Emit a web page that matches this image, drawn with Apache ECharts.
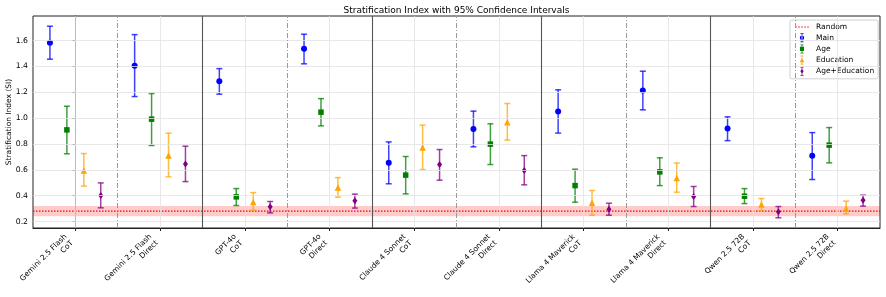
<!DOCTYPE html>
<html>
<head>
<meta charset="utf-8">
<script src="https://cdn.jsdelivr.net/npm/echarts@6/dist/echarts.min.js"></script>
<style>html,body{margin:0;padding:0;background:#fff}#c{width:886px;height:297px}</style>
</head>
<body>
<div id="c"></div>
<script>
const categories = ['Gemini 2.5 Flash\nCoT', 'Gemini 2.5 Flash\nDirect', 'GPT-4o\nCoT', 'GPT-4o\nDirect', 'Claude 4 Sonnet\nCoT', 'Claude 4 Sonnet\nDirect', 'Llama 4 Maverick\nCoT', 'Llama 4 Maverick\nDirect', 'Qwen 2.5 72B\nCoT', 'Qwen 2.5 72B\nDirect'];
const yTicks = [0.2, 0.4, 0.6, 0.8, 1.0, 1.2, 1.4, 1.6];
const mainVal  = [1.584, 1.406, 1.286, 1.536, 0.654, 0.915, 1.051, 1.213, 0.919, 0.708];
const mainLow  = [1.456, 1.167, 1.185, 1.420, 0.492, 0.778, 0.884, 1.064, 0.826, 0.525];
const mainHigh = [1.711, 1.646, 1.383, 1.649, 0.816, 1.054, 1.219, 1.363, 1.010, 0.888];
const ageVal   = [0.909, 0.992, 0.391, 1.046, 0.559, 0.799, 0.478, 0.584, 0.396, 0.791];
const ageLow   = [0.724, 0.788, 0.324, 0.940, 0.414, 0.641, 0.350, 0.478, 0.339, 0.654];
const ageHigh  = [1.092, 1.190, 0.455, 1.151, 0.703, 0.956, 0.605, 0.693, 0.455, 0.927];
const eduVal   = [0.594, 0.710, 0.352, 0.463, 0.772, 0.969, 0.345, 0.536, 0.331, 0.298];
const eduLow   = [0.474, 0.546, 0.288, 0.389, 0.602, 0.830, 0.249, 0.427, 0.285, 0.260];
const eduHigh  = [0.726, 0.884, 0.424, 0.540, 0.946, 1.113, 0.440, 0.652, 0.378, 0.358];
const aeVal    = [0.401, 0.646, 0.314, 0.360, 0.641, 0.594, 0.296, 0.393, 0.275, 0.365];
const aeLow    = [0.306, 0.509, 0.267, 0.304, 0.520, 0.484, 0.249, 0.316, 0.229, 0.319];
const aeHigh   = [0.499, 0.783, 0.355, 0.412, 0.757, 0.710, 0.342, 0.471, 0.316, 0.404];
const randomLevel = 0.28;
const randomBand = [0.24, 0.32];

const FONT = 'DejaVu Sans';
const GRID = {left: 33, right: 6, top: 16, bottom: 69};
const groups = [
  {name: 'Main', color: '#0000ff', val: mainVal, low: mainLow, high: mainHigh, off: -0.3, symbol: 'circle', size: 6},
  {name: 'Age', color: '#008000', val: ageVal, low: ageLow, high: ageHigh, off: -0.1, symbol: 'rect', size: 5.5},
  {name: 'Education', color: '#ffa500', val: eduVal, low: eduLow, high: eduHigh, off: 0.1, symbol: 'triangle', size: 6.5},
  {name: 'Age+Education', color: '#800080', val: aeVal, low: aeLow, high: aeHigh, off: 0.3, symbol: 'diamond', size: [5, 7]}
];
const markerPaths = {
  circle: 'M3.6,7a3.4,3.4 0 1,0 6.8,0a3.4,3.4 0 1,0 -6.8,0z',
  rect: 'M3.8,3.8h6.4v6.4h-6.4z',
  triangle: 'M7,3.3L10.6,10.3H3.4z',
  diamond: 'M7,3L9.6,7L7,11L4.4,7z'
};
function legendIcon(sym) {
  return 'path://M0,0h14v0.01h-14z M4.5,0h5v1.2h-5z M6.4,0h1.2v14h-1.2z M4.5,12.8h5v1.2h-5z ' + markerPaths[sym];
}

const catIdx = categories.map((c, i) => i);
const series = [];

const gridLines = [];
yTicks.forEach(v => gridLines.push({yAxis: v, lineStyle: {color: '#e2e2e2', width: 0.8, type: 'solid'}}));
catIdx.forEach(i => gridLines.push({xAxis: i, lineStyle: {color: '#e2e2e2', width: 0.8, type: 'solid'}}));
for (let i = 0; i < categories.length - 1; i++) {
  const b = i + 0.5;
  if (i % 2 === 1) gridLines.push({xAxis: b, lineStyle: {color: '#555', width: 1.1, type: 'solid'}});
  else gridLines.push({xAxis: b, lineStyle: {color: '#9a9a9a', width: 1, type: [5, 2, 1, 2]}});
}
series.push({
  type: 'line', name: '_grid', data: [], z: 0, silent: true,
  markLine: {silent: true, symbol: 'none', label: {show: false}, animation: false, data: gridLines}
});

series.push({
  type: 'line', name: 'Random', z: 1, symbol: 'none', silent: true,
  data: [[-0.5, randomLevel], [categories.length - 0.5, randomLevel]],
  lineStyle: {color: '#ff0000', width: 1.2, type: [1.5, 1.5]},
  itemStyle: {color: '#ff0000'},
  markArea: {silent: true, itemStyle: {color: 'rgba(255,0,0,0.2)'}, data: [[{yAxis: randomBand[0]}, {yAxis: randomBand[1]}]]}
});

groups.forEach(g => {
  series.push({
    type: 'custom', name: g.name, z: 3,
    itemStyle: {color: g.color},
    data: catIdx.map(i => [i + g.off, g.low[i], g.high[i]]),
    renderItem: function (params, api) {
      const x = api.value(0);
      const p1 = api.coord([x, api.value(1)]);
      const p2 = api.coord([x, api.value(2)]);
      const cw = 3;
      const st = {stroke: g.color, lineWidth: 1.5, opacity: 0.75};
      return {
        type: 'group',
        children: [
          {type: 'line', shape: {x1: p1[0], y1: p1[1], x2: p2[0], y2: p2[1]}, style: st},
          {type: 'line', shape: {x1: p1[0] - cw, y1: p1[1], x2: p1[0] + cw, y2: p1[1]}, style: st},
          {type: 'line', shape: {x1: p2[0] - cw, y1: p2[1], x2: p2[0] + cw, y2: p2[1]}, style: st}
        ]
      };
    }
  });
  series.push({
    type: 'scatter', name: g.name, z: 4,
    symbol: g.symbol, symbolSize: g.size,
    itemStyle: {color: g.color, opacity: 1},
    data: catIdx.map(i => [i + g.off, g.val[i]])
  });
});

const titleText = 'Stratification Index with 95% Confidence Intervals';
const titleSize = 9;
const mctx = document.createElement('canvas').getContext('2d');
mctx.font = titleSize + 'px "' + FONT + '"';
const titleW = mctx.measureText(titleText).width;
const plotCenter = GRID.left + (886 - GRID.left - GRID.right) / 2;

const chart = echarts.init(document.getElementById('c'), null, {renderer: 'canvas'});
chart.setOption({
  animation: false,
  backgroundColor: '#fff',
  title: {
    text: titleText,
    left: plotCenter - titleW / 2 - 5, top: 1,
    textStyle: {fontFamily: FONT, fontSize: titleSize, fontWeight: 'normal', color: '#000'}
  },
  legend: {
    orient: 'vertical', left: 790, top: 20,
    padding: [3, 4, 3, 5], itemGap: 2.2, itemWidth: 14, itemHeight: 9,
    backgroundColor: 'rgba(255,255,255,0.85)', borderColor: '#d0d0d0', borderWidth: 1, borderRadius: 2,
    textStyle: {fontFamily: FONT, fontSize: 7.5, color: '#000', padding: [0, 0, 0, 2]},
    data: [
      {name: 'Random', icon: 'path://M0,4h2v1.4h-2z M3,4h2v1.4h-2z M6,4h2v1.4h-2z M9,4h2v1.4h-2z M12,4h2v1.4h-2z', itemStyle: {color: 'rgba(255,0,0,0.5)'}},
      {name: 'Main', icon: legendIcon('circle')},
      {name: 'Age', icon: legendIcon('rect')},
      {name: 'Education', icon: legendIcon('triangle')},
      {name: 'Age+Education', icon: legendIcon('diamond')}
    ]
  },
  grid: Object.assign({show: true, borderColor: '#222', borderWidth: 1, backgroundColor: 'transparent', containLabel: false, outerBoundsMode: 'none'}, GRID),
  xAxis: {
    type: 'value', min: -0.5, max: categories.length - 0.5,
    axisLine: {show: true, lineStyle: {color: '#222', width: 1}},
    splitLine: {show: false},
    axisTick: {show: true, length: 3, lineStyle: {color: '#222'}, customValues: catIdx},
    axisLabel: {
      customValues: catIdx, rotate: 45, margin: 17, align: 'right', verticalAlign: 'bottom',
      fontFamily: FONT, fontSize: 7.5, color: '#000', lineHeight: 9,
      formatter: v => categories[Math.round(v)]
    }
  },
  yAxis: {
    type: 'value', min: 0.15, max: 1.79,
    name: 'Stratification Index (SI)', nameLocation: 'middle', nameGap: 20, nameMoveOverlap: false,
    nameTextStyle: {fontFamily: FONT, fontSize: 7.5, color: '#000'},
    axisLine: {show: true, lineStyle: {color: '#222', width: 1}},
    splitLine: {show: false},
    axisTick: {show: true, length: 3, lineStyle: {color: '#222'}, customValues: yTicks},
    axisLabel: {customValues: yTicks, margin: 5, fontFamily: FONT, fontSize: 7.7, color: '#000', formatter: v => v.toFixed(1)}
  },
  series: series
});
</script>
</body>
</html>
